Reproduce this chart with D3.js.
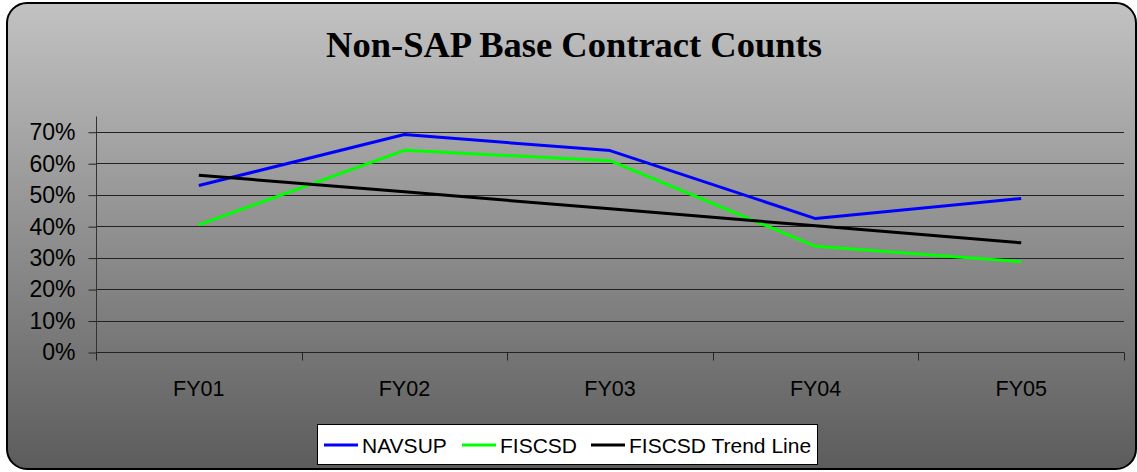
<!DOCTYPE html>
<html>
<head>
<meta charset="utf-8">
<script src="https://cdn.jsdelivr.net/npm/d3@7"></script>
<style>
  html, body { margin: 0; padding: 0; background: #fff; }
  svg { display: block; }
</style>
</head>
<body>
<div id="chart"></div>
<script>
const categories = ['FY01', 'FY02', 'FY03', 'FY04', 'FY05'];
const navsup = [0.529, 0.691, 0.640, 0.424, 0.488];
const fiscsd = [0.404, 0.641, 0.608, 0.336, 0.287];
const trend = [0.562, 0.509, 0.455, 0.401, 0.347];
const yTicks = [0, 0.1, 0.2, 0.3, 0.4, 0.5, 0.6, 0.7];
const seriesNames = ['NAVSUP', 'FISCSD', 'FISCSD Trend Line'];

const width = 1137, height = 472;
const plot = { left: 96, right: 1124, top: 116, bottom: 352 };

const svg = d3.select('#chart')
  .append('svg')
  .attr('width', width)
  .attr('height', height);

const defs = svg.append('defs');
const grad = defs.append('linearGradient')
  .attr('id', 'bg')
  .attr('x1', 0).attr('y1', 0).attr('x2', 0).attr('y2', 1);
grad.append('stop').attr('offset', '0%').attr('stop-color', '#c2c2c2');
grad.append('stop').attr('offset', '100%').attr('stop-color', '#5c5c5c');

// chart frame
svg.append('rect')
  .attr('x', 7).attr('y', 3)
  .attr('width', 1129).attr('height', 466)
  .attr('rx', 20).attr('ry', 20)
  .attr('fill', 'url(#bg)')
  .attr('stroke', '#000')
  .attr('stroke-width', 2);

svg.append('text')
  .attr('x', 574)
  .attr('y', 57)
  .attr('text-anchor', 'middle')
  .style('font-family', '"Liberation Serif", "Times New Roman", serif')
  .style('font-weight', 'bold')
  .style('font-size', '36.5px')
  .text('Non-SAP Base Contract Counts');

const x = d3.scaleBand()
  .domain(categories)
  .range([plot.left, plot.right]);

const y = d3.scaleLinear()
  .domain([0, 0.75])
  .range([plot.bottom, plot.top]);

// gridlines
svg.append('g')
  .selectAll('line')
  .data(yTicks.filter(d => d > 0))
  .enter()
  .append('line')
  .attr('x1', plot.left)
  .attr('x2', plot.right)
  .attr('y1', d => Math.round(y(d)) + 0.5)
  .attr('y2', d => Math.round(y(d)) + 0.5)
  .attr('stroke', '#222')
  .attr('stroke-width', 1);

// y axis
const yAxis = svg.append('g')
  .attr('transform', `translate(${plot.left + 0.5},0.5)`)
  .call(d3.axisLeft(y)
    .tickValues(yTicks)
    .tickSize(8)
    .tickPadding(13)
    .tickFormat(d3.format('.0%')));
yAxis.select('.domain').attr('stroke', '#333').attr('d', `M0,${plot.top}V${plot.bottom}`);
yAxis.selectAll('.tick line').attr('stroke', '#222');
yAxis.selectAll('.tick text')
  .style('font-family', '"Liberation Sans", Arial, sans-serif')
  .style('font-size', '23px')
  .attr('fill', '#000');

// x axis
const xAxis = svg.append('g')
  .attr('transform', `translate(0,${plot.bottom + 0.5})`);
xAxis.append('line')
  .attr('x1', plot.left).attr('x2', plot.right)
  .attr('stroke', '#222');
xAxis.selectAll('.xtick')
  .data(categories.concat(['end']))
  .enter()
  .append('line')
  .attr('class', 'xtick')
  .attr('x1', (d, i) => Math.round(i < categories.length ? x(d) : plot.right) + 0.5)
  .attr('x2', (d, i) => Math.round(i < categories.length ? x(d) : plot.right) + 0.5)
  .attr('y1', 0).attr('y2', 8)
  .attr('stroke', '#222');
xAxis.selectAll('.xlabel')
  .data(categories)
  .enter()
  .append('text')
  .attr('class', 'xlabel')
  .attr('x', d => x(d) + x.bandwidth() / 2)
  .attr('y', 43)
  .attr('text-anchor', 'middle')
  .style('font-family', '"Liberation Sans", Arial, sans-serif')
  .style('font-size', '21.5px')
  .text(d => d);

const line = d3.line()
  .x((d, i) => x(categories[i]) + x.bandwidth() / 2)
  .y(d => y(d));

const series = [
  { name: seriesNames[0], values: navsup, color: '#0000ff' },
  { name: seriesNames[1], values: fiscsd, color: '#00ff00' },
  { name: seriesNames[2], values: trend, color: '#000000' }
];

svg.append('g')
  .selectAll('path')
  .data(series)
  .enter()
  .append('path')
  .attr('d', d => line(d.values))
  .attr('fill', 'none')
  .attr('stroke', d => d.color)
  .attr('stroke-width', 3)
  .attr('stroke-linejoin', 'round');

// legend
const legend = svg.append('g');
legend.append('rect')
  .attr('x', 317.5).attr('y', 424.5)
  .attr('width', 500).attr('height', 40)
  .attr('fill', '#fff')
  .attr('stroke', '#000');

const legendX = [324, 462, 591];
const items = legend.selectAll('.item')
  .data(series)
  .enter()
  .append('g')
  .attr('class', 'item')
  .attr('transform', (d, i) => `translate(${legendX[i]},445)`);
items.append('line')
  .attr('x1', 0).attr('x2', 34)
  .attr('stroke', d => d.color)
  .attr('stroke-width', 3);
items.append('text')
  .attr('x', 38)
  .attr('y', 8)
  .style('font-family', '"Liberation Sans", Arial, sans-serif')
  .style('font-size', '21px')
  .text(d => d.name);
</script>
</body>
</html>
